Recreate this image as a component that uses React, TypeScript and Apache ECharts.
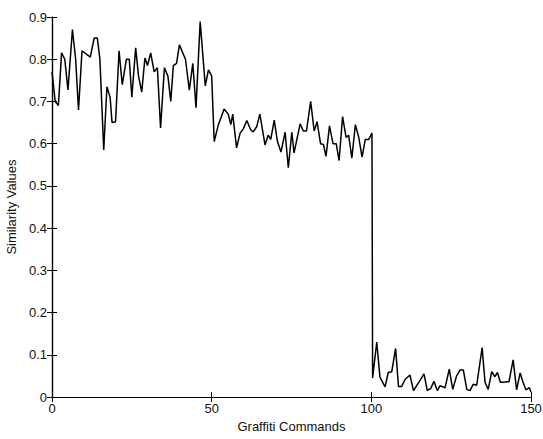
import React, { useEffect, useRef } from "react";
import * as echarts from "echarts";

const commandIndex: number[] = [
  0, 1, 2, 3, 4, 5, 6.4, 7.4, 8.3, 9.4, 12, 13.2, 14.2, 15, 16.2, 17.2, 18.2, 18.8, 19.9, 21,
  22, 23.3, 24.2, 25, 26.2, 27.1, 28.1, 29.1, 29.9, 30.9, 32, 33, 34, 35.2, 36.3, 37.2, 38, 39, 39.9, 41.8,
  43, 44.1, 45.1, 46.4, 48, 49, 50, 50.8, 52.1, 53.9, 55.2, 56, 56.6, 57.8, 58.9, 59.9, 61, 62.2, 63, 64.1,
  65.1, 66.7, 67.7, 68.5, 69.6, 70.6, 71.7, 73, 74, 75.1, 75.8, 77.7, 78.7, 79.7, 81, 82.1, 83, 84.1, 85, 85.8,
  86.9, 88, 89, 89.9, 91, 92.1, 92.9, 93.9, 95, 96, 97.1, 98.1, 99.2, 100.2,
  100.4, 101.7, 102.7, 104.3, 105.3, 106.4, 107.6, 108.5, 109.5, 110.6, 112.1, 113.2, 114.7, 116.5, 117.5, 118.6,
  119.6, 120.7, 121.5, 123.1, 124.4, 125.5, 126.7, 127.8, 128.8, 129.9, 130.9, 131.9, 133, 134.7, 135.6, 136.6,
  137.7, 138.7, 139.5, 140.4, 141.3, 142.5, 143.1, 144.4, 145.5, 146.6, 147.5, 148.4, 149.5, 150,
];

const similarity: number[] = [
  0.77, 0.7, 0.69, 0.815, 0.8, 0.727, 0.87, 0.8, 0.68, 0.82, 0.805, 0.85, 0.85, 0.8, 0.585, 0.735, 0.71, 0.65, 0.652, 0.82,
  0.74, 0.8, 0.8, 0.71, 0.827, 0.76, 0.722, 0.803, 0.785, 0.815, 0.77, 0.78, 0.637, 0.78, 0.76, 0.7, 0.785, 0.79, 0.834, 0.8,
  0.727, 0.79, 0.685, 0.889, 0.737, 0.775, 0.76, 0.605, 0.645, 0.682, 0.67, 0.645, 0.67, 0.59, 0.625, 0.635, 0.655, 0.633, 0.628, 0.64,
  0.67, 0.597, 0.62, 0.61, 0.656, 0.605, 0.58, 0.627, 0.543, 0.627, 0.578, 0.647, 0.63, 0.63, 0.7, 0.63, 0.652, 0.6, 0.598, 0.57,
  0.642, 0.6, 0.6, 0.56, 0.664, 0.615, 0.62, 0.566, 0.645, 0.617, 0.568, 0.61, 0.61, 0.625,
  0.045, 0.13, 0.047, 0.024, 0.058, 0.06, 0.115, 0.025, 0.025, 0.042, 0.052, 0.015, 0.033, 0.055, 0.016, 0.02,
  0.037, 0.015, 0.027, 0.022, 0.066, 0.018, 0.05, 0.064, 0.064, 0.018, 0.015, 0.03, 0.028, 0.117, 0.035, 0.018,
  0.06, 0.048, 0.058, 0.035, 0.035, 0.036, 0.036, 0.088, 0.017, 0.057, 0.035, 0.017, 0.022, 0.012,
];

const xTicks: number[] = [0, 50, 100, 150];
const yTicks: number[] = [0, 0.1, 0.2, 0.3, 0.4, 0.5, 0.6, 0.7, 0.8, 0.9];

const FONT = "Liberation Sans, Arial, Helvetica, sans-serif";

export default function App() {
  const ref = useRef<HTMLDivElement>(null);
  useEffect(() => {
    if (!ref.current) return;
    const chart = echarts.init(ref.current, undefined, { renderer: "svg" });
    const axisLine = { show: true, lineStyle: { color: "#000", width: 1.2 } };
    const tickStyle = { show: true, inside: true, length: 5, lineStyle: { color: "#000", width: 1 } };
    const labelStyle = { color: "#111", fontFamily: FONT, fontSize: 13 };
    chart.setOption({
      animation: false,
      backgroundColor: "#fff",
      grid: { left: 52, right: 12, top: 17, bottom: 42, containLabel: false, outerBoundsMode: "none" },
      xAxis: [
        {
          type: "value",
          min: xTicks[0],
          max: xTicks[xTicks.length - 1],
          interval: 50,
          position: "bottom",
          axisLine,
          axisTick: tickStyle,
          splitLine: { show: false },
          axisLabel: { ...labelStyle, margin: 5, formatter: (v: number) => String(v) },
          name: "Graffiti Commands",
          nameLocation: "middle",
          nameGap: 22,
          nameTextStyle: { color: "#111", fontFamily: FONT, fontSize: 13 },
        },
        {
          type: "value",
          min: xTicks[0],
          max: xTicks[xTicks.length - 1],
          interval: 50,
          position: "top",
          axisLine,
          axisTick: tickStyle,
          splitLine: { show: false },
          axisLabel: { show: false },
        },
      ],
      yAxis: [
        {
          type: "value",
          min: yTicks[0],
          max: yTicks[yTicks.length - 1],
          interval: 0.1,
          position: "left",
          axisLine,
          axisTick: tickStyle,
          splitLine: { show: false },
          axisLabel: {
            ...labelStyle,
            margin: 5,
            formatter: (v: number) => (v === 0 ? "0" : v.toFixed(1)),
          },
          name: "Similarity Values",
          nameLocation: "middle",
          nameGap: 34,
          nameMoveOverlap: false,
          nameRotate: 90,
          nameTextStyle: { color: "#111", fontFamily: FONT, fontSize: 13 },
        },
        {
          type: "value",
          min: yTicks[0],
          max: yTicks[yTicks.length - 1],
          interval: 0.1,
          position: "right",
          axisLine,
          axisTick: tickStyle,
          splitLine: { show: false },
          axisLabel: { show: false },
        },
      ],
      series: [
        {
          type: "line",
          xAxisIndex: 0,
          yAxisIndex: 0,
          data: commandIndex.map((x, i) => [x, similarity[i]]),
          showSymbol: false,
          symbol: "none",
          lineStyle: { color: "#000", width: 1.5 },
        },
      ],
    });
    return () => chart.dispose();
  }, []);
  return (
    <div
      ref={ref}
      style={{ position: "absolute", left: 0, top: 0, width: 543, height: 439 }}
    />
  );
}
